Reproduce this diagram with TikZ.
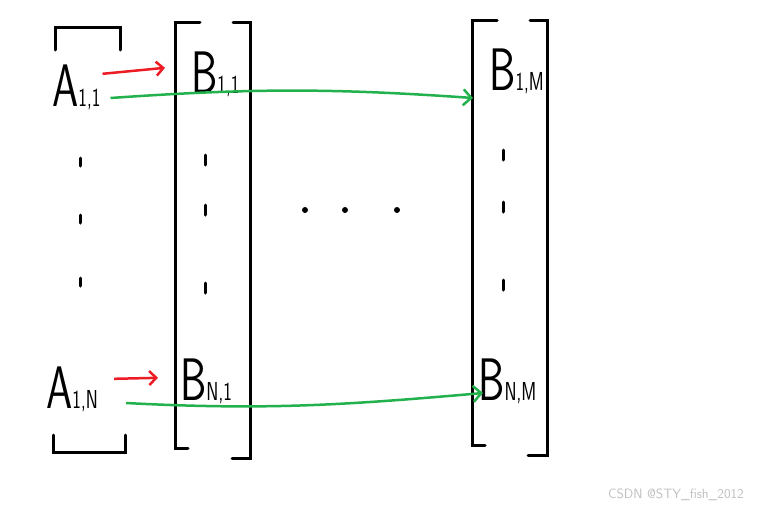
\documentclass[tikz,border=0pt]{standalone}
\usepackage{graphicx}
\usepackage{tikz}
\usetikzlibrary{arrows.meta}

\definecolor{paintred}{HTML}{ED1C24}
\definecolor{paintgreen}{HTML}{22B14C}

% a hand-written matrix entry: big letter, small index
\newcommand{\handentry}[2]{\scalebox{0.7}[1]{{\fontsize{60}{60}\selectfont #1}{\fontsize{26}{26}\selectfont #2}}}

\begin{document}
\begin{tikzpicture}[
        x=1pt, y=-1pt,
        ink/.style={line width=3pt, line cap=round},
        entry/.style={inner sep=0pt, anchor=base west, font=\sffamily},
        redarrow/.style={-{Straight Barb[length=7pt, width=14pt]}, line width=2.5pt, paintred},
        greenarrow/.style={-{Straight Barb[length=8pt, width=16pt]}, line width=2.5pt, paintgreen},
        credittext/.style={font=\sffamily\fontsize{13.5}{13.5}\selectfont, text=black!25}
        ]
        \useasboundingbox (0,0) rectangle (759,509);

        % vector A
        \draw[ink] (55,50) -- (55,27) -- (120,27) -- (120,50);
        \draw[ink] (53,435) -- (53,452) -- (125,452) -- (125,435);
        \node[entry] (a11) at (52,106) {\handentry{A}{1,1}};
        \node[entry] (a1n) at (46,408) {\handentry{A}{1,N}};
        \foreach \y in {158,215,278}
            \draw[ink] (80,\y) -- (80,\y+8);

        % first column of B
        \draw[ink] (200,22) -- (175,22) -- (175,448) -- (188,448);
        \draw[ink] (233,22) -- (250,22) -- (250,458) -- (232,458);
        \node[entry] (b11) at (191,93) {\handentry{B}{1,1}};
        \node[entry] (bn1) at (180,400) {\handentry{B}{N,1}};
        \foreach \y in {155,205,283}
            \draw[ink] (205,\y) -- (205,\y+10);

        % dots between the columns
        \foreach \x in {305,345,397}
            \fill (\x,210) circle (3pt);

        % last column of B
        \draw[ink] (497,20) -- (472,20) -- (472,445) -- (485,445);
        \draw[ink] (530,20) -- (547,20) -- (547,455) -- (528,455);
        \node[entry] (b1m) at (489,90) {\handentry{B}{1,M}};
        \node[entry] (bnm) at (478,400) {\handentry{B}{N,M}};
        \foreach \y in {150,202,280}
            \draw[ink] (503,\y) -- (503,\y+10);

        % arrows
        \draw[redarrow] ([xshift=2pt, yshift=13pt]a11.east) -- ([xshift=-26pt, yshift=6pt]b11.west);
        \draw[redarrow] ([xshift=16pt, yshift=10pt]a1n.east) -- ([xshift=-22pt, yshift=3pt]bn1.west);
        \draw[greenarrow] ([xshift=10pt, yshift=8pt]a11.base east) to[out=4, in=176] ([xshift=-16pt, yshift=-8pt]b1m.base west);
        \draw[greenarrow] ([xshift=28pt, yshift=5pt]a1n.base east) to[out=-3, in=185] ([xshift=5pt, yshift=7pt]bnm.base west);

        \node[credittext] (credit) at (676,495) {CSDN @STY\_fish\_2012};
    \end{tikzpicture}
\end{document}
